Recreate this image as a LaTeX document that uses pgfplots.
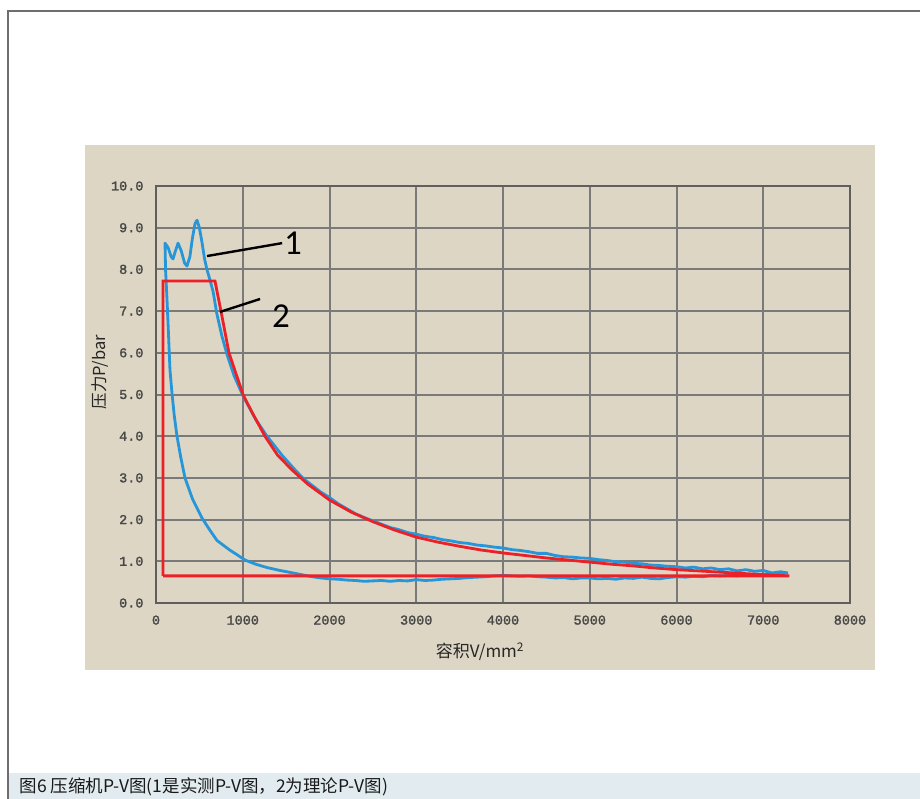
\documentclass[border=0pt]{standalone}
\usepackage{fontspec}
\usepackage{pgfplots}
\pgfplotsset{compat=1.18}
\setmainfont{Liberation Sans}
\newfontfamily\cjk{Noto Sans CJK SC}
\newfontfamily\tickfont[FakeBold=1.6]{Liberation Mono}
\newfontfamily\numfont{Carlito}
\definecolor{beige}{RGB}{221,214,196}
\definecolor{gridc}{RGB}{122,122,122}
\definecolor{axc}{RGB}{95,95,95}
\definecolor{blueline}{RGB}{38,150,216}
\definecolor{redline}{RGB}{236,32,38}
\definecolor{capbg}{RGB}{226,236,240}
\definecolor{frame}{RGB}{110,110,110}
\begin{document}
\begin{tikzpicture}[x=1pt,y=1pt]
\useasboundingbox (0,0) rectangle (920,-799);
\fill[white] (0,0) rectangle (920,-799);
\fill[capbg] (8,-773) rectangle (920,-799);
\draw[frame,line width=1.2] (8,-799) -- (8,-11) -- (920,-11);
\fill[beige] (85,-145) rectangle (875,-670);
\begin{axis}[
  at={(156pt,-603pt)}, anchor=south west,
  scale only axis, width=694pt, height=417pt,
  xmin=0, xmax=8000, ymin=0, ymax=10,
  xtick={0,1000,...,8000}, ytick={0,1,...,10},
  scaled x ticks=false,
  grid=major,
  major grid style={gridc, line width=2pt},
  axis line style={axc, line width=2pt},
  major tick length=0pt,
  tick label style={font=\tickfont\fontsize{13.5}{15}\selectfont, text=black!72},
  /pgf/number format/assume math mode=true,
  x tick label style={/pgf/number format/set thousands separator={}, yshift=-9pt},
  y tick label style={/pgf/number format/fixed, /pgf/number format/fixed zerofill, /pgf/number format/precision=1, xshift=-9pt},
]
% measured P-V diagram (1)
\addplot[blueline, line width=2.8pt, line join=round] coordinates {
(7285,0.72) (7200,0.75) (7100,0.72) (7000,0.78) (6900,0.76) (6800,0.80) (6700,0.77)
(6600,0.82) (6500,0.80) (6400,0.84) (6300,0.82) (6200,0.86) (6100,0.84) (6000,0.87)
(5900,0.88) (5800,0.90) (5700,0.91) (5600,0.94) (5500,0.95) (5400,0.98) (5300,0.99)
(5200,1.02) (5100,1.04) (5000,1.07) (4900,1.08) (4800,1.10) (4700,1.11) (4600,1.14)
(4500,1.19) (4400,1.19) (4300,1.23) (4200,1.26) (4100,1.28) (4000,1.32) (3900,1.34)
(3800,1.37) (3700,1.39) (3600,1.43) (3500,1.45) (3400,1.49) (3300,1.52) (3200,1.57)
(3100,1.60) (3000,1.65) (2900,1.69) (2800,1.76) (2700,1.81) (2600,1.89) (2500,1.97)
(2400,2.05) (2300,2.14) (2200,2.26) (2100,2.38) (2000,2.53) (1900,2.66) (1800,2.82)
(1700,2.98) (1600,3.20) (1450,3.55) (1280,4.00) (1150,4.40) (1000,4.98) (900,5.45)
(820,5.95) (760,6.40) (700,6.95) (660,7.45) (622,7.75) (588,7.99) (560,8.25) (530,8.65)
(500,9.00) (473,9.18) (450,9.10) (420,8.75) (390,8.30) (357,8.08) (330,8.15) (290,8.45)
(254,8.63) (225,8.45) (196,8.25) (175,8.30) (140,8.52) (104,8.63) (110,8.00) (127,7.27)
(145,6.40) (161,5.59) (184,5.04) (210,4.50) (242,4.00) (285,3.50) (334,3.00) (420,2.50)
(530,2.04) (620,1.75) (703,1.50) (780,1.38) (850,1.27) (940,1.15) (1026,1.03)
(1150,0.93) (1280,0.85) (1430,0.78) (1580,0.72) (1700,0.67) (1800,0.63) (1900,0.60)
(2000,0.58) (2100,0.57) (2200,0.55) (2300,0.54) (2400,0.52) (2500,0.53) (2600,0.54)
(2700,0.52) (2800,0.54) (2900,0.53) (3000,0.56) (3100,0.54) (3200,0.55) (3300,0.57)
(3400,0.58) (3500,0.59) (3600,0.61) (3700,0.62) (3800,0.63) (3900,0.65) (4000,0.66)
(4100,0.65) (4200,0.64) (4300,0.65) (4400,0.63) (4500,0.62) (4600,0.60) (4700,0.61)
(4800,0.58) (4900,0.60) (5000,0.60) (5100,0.58) (5200,0.59) (5300,0.57) (5400,0.60)
(5500,0.59) (5600,0.62) (5700,0.59) (5800,0.58) (5900,0.61) (6000,0.63) (6100,0.62)
(6200,0.64) (6300,0.63) (6400,0.66) (6500,0.65) (6600,0.66) (6700,0.65) (6800,0.68)
(6900,0.67) (7000,0.68) (7100,0.69) (7200,0.70) (7285,0.72)
};
% theoretical P-V diagram (2)
\addplot[redline, line width=2.8pt, line join=miter] coordinates {
(81,0.65) (81,7.72) (680,7.72) (749,7.00) (841,6.00) (1003,5.00) (1100,4.60)
(1256,4.00) (1400,3.55) (1568,3.19) (1750,2.85) (2000,2.47) (2250,2.18) (2500,1.95)
(2750,1.75) (3000,1.58) (3250,1.46) (3500,1.36) (3750,1.27) (4000,1.20) (4250,1.14)
(4500,1.08) (4750,1.03) (5000,0.98) (5250,0.93) (5500,0.89) (5750,0.84) (6000,0.80)
(6250,0.77) (6500,0.74) (6750,0.71) (7000,0.68) (7300,0.65) (81,0.65)
};
% leader lines and labels
\draw[black, line width=2.4pt] (axis cs:588,8.32) -- (axis cs:1454,8.63);
\draw[black, line width=2.4pt] (axis cs:738,6.98) -- (axis cs:1199,7.29);
\node[font=\numfont\fontsize{35}{37}\selectfont] at (axis cs:1580,8.63) {1};
\node[font=\numfont\fontsize{35}{37}\selectfont] at (axis cs:1440,6.88) {2};
\end{axis}
\node[rotate=90, font=\cjk\fontsize{16.5}{18}\selectfont, text=black!85] at (100,-372) {压力P/bar};
\node[font=\cjk\fontsize{17}{19}\selectfont, text=black!85] at (480,-652) {容积V/mm\textsuperscript{2}};
\node[anchor=west, font=\cjk\fontsize{17.5}{19}\selectfont, text=black!90] at (16,-787) {图6 压缩机P-V图(1是实测P-V图，2为理论P-V图)};
\end{tikzpicture}
\end{document}
